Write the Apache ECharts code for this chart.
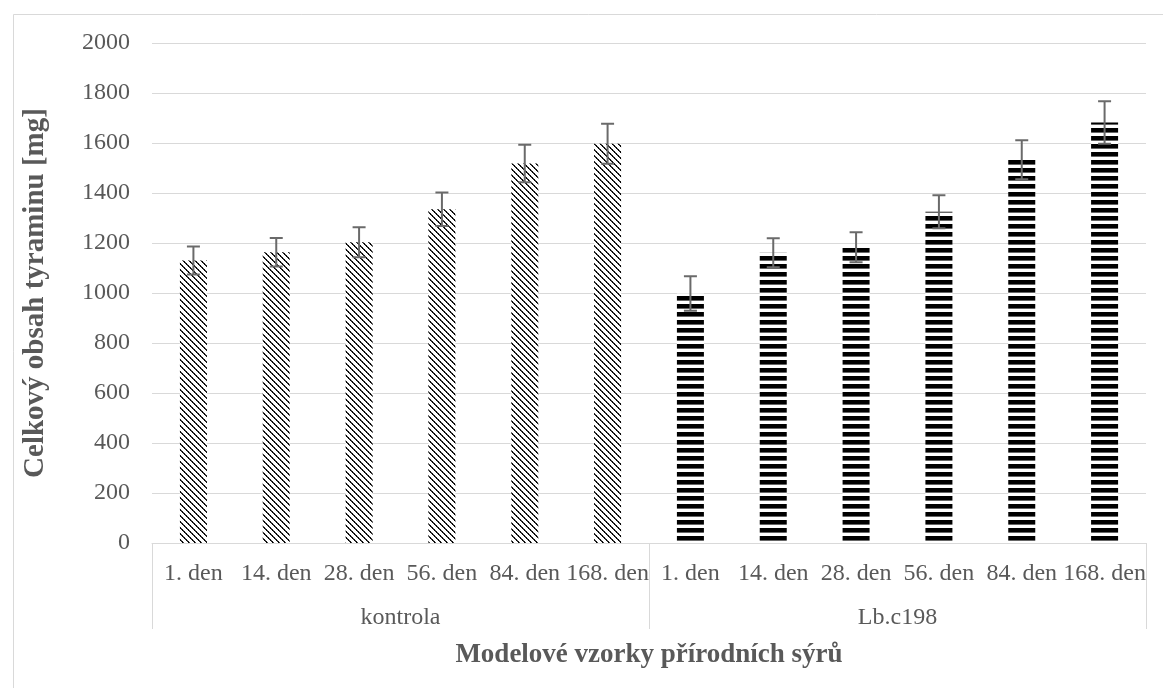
<!DOCTYPE html>
<html>
<head>
<meta charset="utf-8">
<script src="https://cdn.jsdelivr.net/npm/echarts@6/dist/echarts.min.js"></script>
<style>
html,body{margin:0;padding:0;background:#fff;}
#chart{width:1163px;height:688px;}
</style>
</head>
<body>
<div id="chart"></div>
<script>
const days = ['1. den', '14. den', '28. den', '56. den', '84. den', '168. den'];
const groups = ['kontrola', 'Lb.c198'];
const kontrola = [1130, 1163, 1203, 1335, 1518, 1597];
const kontrolaErr = [56, 57, 60, 67, 75, 80];
const lbc198 = [998, 1161, 1183, 1325, 1533, 1682];
const lbc198Err = [69, 58, 60, 66, 78, 85];
const yTicks = { min: 0, max: 2000, interval: 200 };

const categories = days.concat(days);
const n = days.length;

function diagPattern() {
  const c = document.createElement('canvas');
  c.width = 6; c.height = 6;
  const ctx = c.getContext('2d');
  ctx.fillStyle = '#fff'; ctx.fillRect(0, 0, 6, 6);
  for (let i = 0; i < 6; i++) {
    ctx.fillStyle = (i % 2 === 0) ? '#000' : '#222'; ctx.fillRect(i, i, 1, 1);
    ctx.fillStyle = (i % 2 === 0) ? '#444' : '#111'; ctx.fillRect((i + 1) % 6, i, 1, 1);
  }
  return c;
}
function horizPattern() {
  const c = document.createElement('canvas');
  c.width = 8; c.height = 8;
  const ctx = c.getContext('2d');
  ctx.fillStyle = '#fff'; ctx.fillRect(0, 0, 8, 8);
  ctx.fillStyle = '#000'; ctx.fillRect(0, 0, 8, 4);
  ctx.fillStyle = '#666'; ctx.fillRect(0, 4, 8, 1);
  return c;
}

const kData = kontrola.map(v => v).concat(new Array(n).fill(null));
const lData = new Array(n).fill(null).concat(lbc198);
const errData = kontrola.map((v, i) => [i, v, kontrolaErr[i]])
  .concat(lbc198.map((v, i) => [i + n, v, lbc198Err[i]]));

const font = 'Liberation Serif';
const txt = '#595959';
const grey = '#d9d9d9';

const chart = echarts.init(document.getElementById('chart'));
chart.setOption({
  animation: false,
  backgroundColor: '#fff',
  graphic: [{
    type: 'rect', left: 11, top: 12,
    shape: { width: 1200, height: 720 },
    style: { fill: 'none', stroke: grey, lineWidth: 1 },
    silent: true, z: -10
  }],
  grid: { left: 152, right: 17, top: 43, bottom: 145 },
  xAxis: [{
    type: 'category', data: categories,
    axisLine: { show: true, lineStyle: { color: grey, width: 1 } },
    axisTick: { show: false },
    axisLabel: { interval: 0, margin: 19, fontFamily: font, fontSize: 24, color: txt }
  }, {
    type: 'category', data: groups, position: 'bottom',
    axisLine: { show: false },
    axisTick: { show: true, interval: 0, length: 86, lineStyle: { color: grey, width: 1 } },
    axisLabel: { interval: 0, margin: 63, fontFamily: font, fontSize: 24, color: txt },
    name: 'Modelové vzorky přírodních sýrů', nameLocation: 'middle', nameGap: 99,
    nameTextStyle: { fontFamily: font, fontSize: 27, fontWeight: 'bold', color: txt }
  }],
  yAxis: {
    type: 'value', min: yTicks.min, max: yTicks.max, interval: yTicks.interval,
    axisLine: { show: false }, axisTick: { show: false },
    splitLine: { lineStyle: { color: grey, width: 1 } },
    axisLabel: { margin: 22, fontFamily: font, fontSize: 24, color: txt, formatter: v => String(v) },
    name: 'Celkový obsah tyraminu [mg]', nameLocation: 'middle', nameRotate: 90, nameGap: 102,
    nameTextStyle: { fontFamily: font, fontSize: 29, fontWeight: 'bold', color: txt }
  },
  series: [{
    name: 'kontrola', type: 'bar', data: kData, barWidth: 27, barGap: '-100%',
    itemStyle: { color: { image: diagPattern(), repeat: 'repeat' } }
  }, {
    name: 'Lb.c198', type: 'bar', data: lData, barWidth: 27, barGap: '-100%',
    itemStyle: { color: { image: horizPattern(), repeat: 'repeat' } }
  }, {
    type: 'custom', data: errData, z: 10,
    renderItem: function (params, api) {
      const x = api.value(0), v = api.value(1), e = api.value(2);
      const t = api.coord([x, v + e]);
      const b = api.coord([x, v - e]);
      const h = 6.5;
      const st = { stroke: '#6a6a6a', lineWidth: 2 };
      return {
        type: 'group', children: [
          { type: 'line', shape: { x1: t[0], y1: t[1], x2: b[0], y2: b[1] }, style: st },
          { type: 'line', shape: { x1: t[0] - h, y1: t[1], x2: t[0] + h, y2: t[1] }, style: st },
          { type: 'line', shape: { x1: b[0] - h, y1: b[1], x2: b[0] + h, y2: b[1] }, style: st }
        ]
      };
    }
  }]
});
</script>
</body>
</html>
